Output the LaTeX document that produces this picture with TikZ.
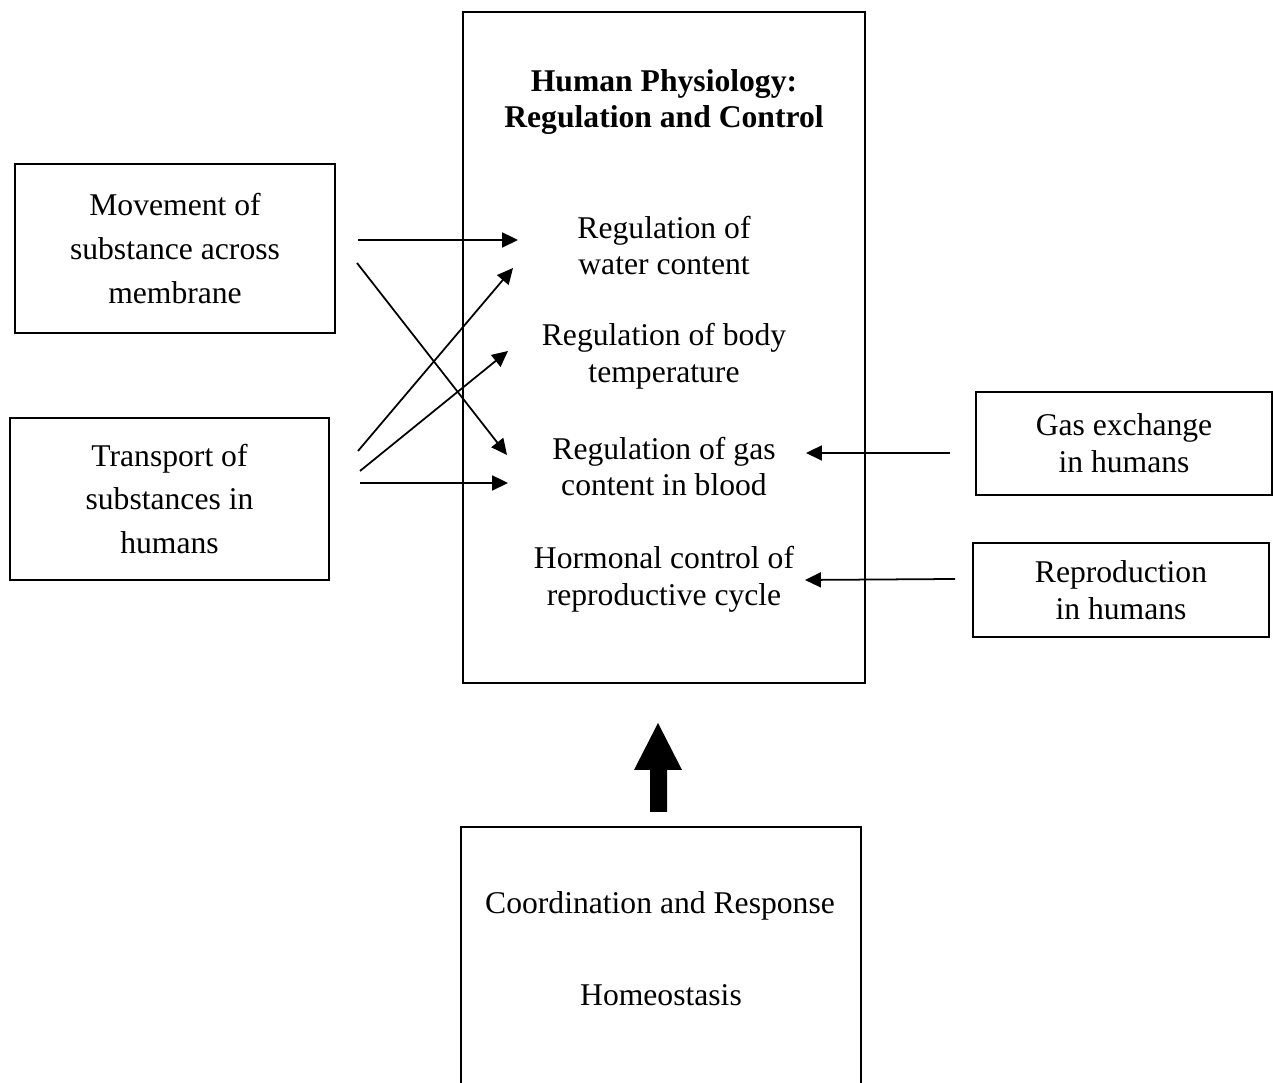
\documentclass[tikz,border=0pt]{standalone}
\usepackage{fontspec}
\setmainfont{Liberation Serif}
\usepackage{tikz}
\usetikzlibrary{arrows.meta}
\tikzset{>={Triangle[length=9pt,width=8.5pt]}}
\tikzset{
  box/.style={draw, line width=1.3pt, align=center, inner sep=0pt,
    font=\fontsize{18}{25}\selectfont},
  item/.style={align=center, inner sep=0pt, font=\fontsize{18}{21}\selectfont},
  link/.style={->, line width=1pt}
}

\begin{document}
\begin{tikzpicture}[scale=1]
\useasboundingbox (0,0) rectangle (25.46,21.66);

% ================= Main box =================
\node[box, minimum width=8.04cm, minimum height=13.42cm] (physio) at (13.28,14.71) {};
\node[item, font=\bfseries\fontsize{18}{21}\selectfont] (title) at (13.28,19.62)
  {Human Physiology:\\Regulation and Control};

\node[item] (water) at (13.28,16.75) {Regulation of\\water content};
\node[item] (temp) at (13.28,14.53) {Regulation of body\\temperature};
\node[item] (gascont) at (13.28,12.33) {Regulation of gas\\content in blood};
\node[item] (hormone) at (13.28,10.07) {Hormonal control of\\reproductive cycle};

% ================= Left boxes =================
\node[box, minimum width=6.40cm, minimum height=3.38cm] (movement) at (3.50,16.69)
  {Movement of\\substance across\\membrane};
\node[box, minimum width=6.38cm, minimum height=3.24cm] (transport) at (3.39,11.68)
  {Transport of\\substances in\\humans};

% ================= Right boxes =================
\node[box, font=\fontsize{18}{21}\selectfont, minimum width=5.92cm, minimum height=2.06cm]
  (gasex) at (22.48,12.79) {Gas exchange\\in humans};
\node[box, font=\fontsize{18}{21}\selectfont, minimum width=5.92cm, minimum height=1.88cm]
  (repro) at (22.42,9.86) {Reproduction\\in humans};

% ================= Arrow ends =================
\coordinate (mv-a) at (7.16,16.86);
\coordinate (mv-b) at (7.14,16.40);
\coordinate (tr-a) at (7.16,12.64);
\coordinate (tr-b) at (7.20,12.24);
\coordinate (tr-c) at (7.20,12.00);
\coordinate (water-a) at (10.36,16.86);
\coordinate (water-b) at (10.26,16.30);
\coordinate (temp-a) at (10.16,14.64);
\coordinate (gas-a) at (10.14,12.56);
\coordinate (gas-b) at (10.16,12.00);
\coordinate (gas-c) at (16.12,12.60);
\coordinate (gasex-a) at (19.00,12.60);
\coordinate (hormone-a) at (16.10,10.06);
\coordinate (repro-a) at (19.10,10.08);

\draw[link] (mv-a) -- (water-a);
\draw[link] (mv-b) -- (gas-a);
\draw[link] (tr-a) -- (water-b);
\draw[link] (tr-b) -- (temp-a);
\draw[link] (tr-c) -- (gas-b);
\draw[link] (gasex-a) -- (gas-c);
\draw[link] (repro-a) -- (hormone-a);

% ================= Bottom box =================
\draw[line width=1.3pt] (9.22,-0.2) -- (9.22,5.12) -- (17.22,5.12) -- (17.22,-0.2);
\node[item] (coord) at (13.20,3.54) {Coordination and Response};
\node[item] (homeo) at (13.22,1.76) {Homeostasis};

% Block arrow
\fill (13.00,5.42) -- (13.34,5.42) -- (13.34,6.26) -- (13.64,6.26)
  -- (13.16,7.20) -- (12.68,6.26) -- (13.00,6.26) -- cycle;

\end{tikzpicture}
\end{document}
